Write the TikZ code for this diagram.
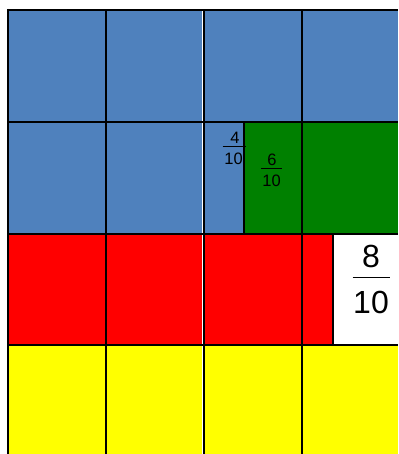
\documentclass[tikz,border=0pt]{standalone}
\usepackage{fontspec}
\setmainfont{Liberation Sans}
\definecolor{cblue}{HTML}{4F81BD}
\definecolor{cgreen}{HTML}{008000}
\definecolor{cred}{HTML}{FF0000}
\definecolor{cyellow}{HTML}{FFFF00}
\begin{document}
\begin{tikzpicture}[x=1pt,y=-1pt,
  gridline/.style={line width=2pt, black},
  fracsmall/.style={font=\fontsize{16.5}{19}\selectfont, inner sep=0pt, anchor=base},
  fraclarge/.style={font=\fontsize{32}{38}\selectfont, inner sep=0pt, anchor=base},
  barsmall/.style={line width=1.1pt, black},
  barlarge/.style={line width=1.5pt, black}]
\useasboundingbox (0,0) rectangle (398,454);
\fill[white] (0,0) rectangle (398,454);
% fills
\fill[cblue] (8,10) rectangle (398,234);
\fill[cgreen] (244,121.7) rectangle (398,234);
\fill[cred] (8,234) rectangle (332.7,344.7);
\fill[cyellow] (8,344.7) rectangle (398,454);
% thin white stripe
\draw[white, line width=1pt] (202.2,10) -- (202.2,454);
% horizontal lines
\draw[gridline] (7,10) -- (398,10);
\draw[gridline] (8,121.7) -- (398,121.7);
\draw[gridline] (8,234) -- (398,234);
\draw[gridline] (8,344.7) -- (398,344.7);
% vertical lines
\draw[gridline] (8,9) -- (8,454);
\draw[gridline] (106,10) -- (106,454);
\draw[gridline] (204,10) -- (204,454);
\draw[gridline] (301.7,10) -- (301.7,454);
\draw[gridline] (244,121.7) -- (244,234);
\draw[gridline] (332.7,234) -- (332.7,344.7);
% fraction 4/10
\node[fracsmall] (n4) at (235,143.7) {4};
\draw[barsmall] (222.7,146.3) -- (246,146.3);
\node[fracsmall] (d4) at (233.5,164.3) {10};
% fraction 6/10
\node[fracsmall] (n6) at (272,165.7) {6};
\draw[barsmall] (261,168.7) -- (281.7,168.7);
\node[fracsmall] (d6) at (271.5,186) {10};
% fraction 8/10
\node[fraclarge] (n8) at (371,267) {8};
\draw[barlarge] (352.5,277.7) -- (390,277.7);
\node[fraclarge] (d8) at (371,313) {10};
\end{tikzpicture}
\end{document}
